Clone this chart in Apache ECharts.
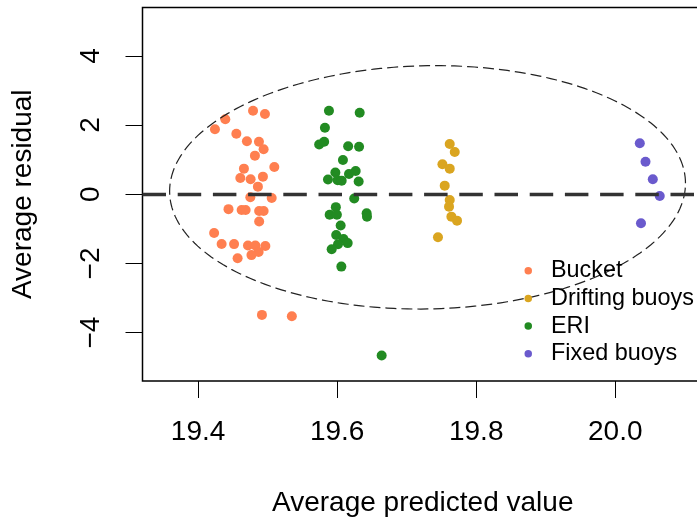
<!DOCTYPE html>
<html>
<head>
<meta charset="utf-8">
<script src="https://cdn.jsdelivr.net/npm/echarts@6/dist/echarts.min.js"></script>
<style>html,body{margin:0;padding:0;background:#fff;}#c{width:697px;height:517px;}</style>
</head>
<body>
<div id="c"></div>
<script>
// ---- data ----
const groupNames = ['Bucket', 'Drifting buoys', 'ERI', 'Fixed buoys'];
const groupColors = ['#FF7F50', '#DAA520', '#228B22', '#6A5ACD'];

const bucketX = [19.479, 19.4961, 19.4391, 19.4242, 19.455, 19.4702, 19.4875, 19.4942, 19.4817, 19.5096, 19.4659, 19.4607, 19.4755, 19.4932, 19.486, 19.4751, 19.5058, 19.4437, 19.4626, 19.4683, 19.4878, 19.4942, 19.4878, 19.423, 19.4338, 19.4517, 19.4717, 19.4823, 19.4967, 19.487, 19.4767, 19.4568, 19.4918, 19.5348];
const bucketY = [2.416, 2.321, 2.168, 1.879, 1.751, 1.532, 1.520, 1.301, 1.116, 0.789, 0.740, 0.471, 0.434, 0.509, 0.220, -0.087, -0.107, -0.431, -0.454, -0.454, -0.483, -0.483, -0.786, -1.118, -1.436, -1.442, -1.480, -1.480, -1.494, -1.668, -1.760, -1.850, -3.488, -3.526];

const driftX = [19.7619, 19.7691, 19.7514, 19.7619, 19.7547, 19.7619, 19.7609, 19.7643, 19.7724, 19.745];
const driftY = [1.454, 1.223, 0.867, 0.740, 0.249, -0.165, -0.358, -0.647, -0.763, -1.243];

const eriX = [19.5882, 19.6324, 19.5824, 19.5741, 19.5813, 19.6158, 19.6315, 19.6083, 19.5974, 19.5868, 19.6007, 19.6065, 19.617, 19.6266, 19.6309, 19.6245, 19.5981, 19.5892, 19.5996, 19.6424, 19.6429, 19.605, 19.5986, 19.6091, 19.6151, 19.6012, 19.5921, 19.606, 19.664];
const eriY = [2.416, 2.358, 1.925, 1.439, 1.517, 1.387, 1.376, 0.988, 0.630, 0.425, 0.408, 0.393, 0.587, 0.673, 0.370, -0.121, -0.373, -0.592, -0.592, -0.549, -0.647, -0.905, -1.179, -1.292, -1.413, -1.445, -1.590, -2.092, -4.665];

const fixedX = [20.0353, 20.0435, 20.054, 20.064, 20.037];
const fixedY = [1.474, 0.942, 0.434, -0.049, -0.838];

const xTicks = [19.4, 19.6, 19.8, 20.0];
const yTicks = [-4, -2, 0, 2, 4];
const xRange = [19.32, 20.1262];
const yRange = [-5.4, 5.4];

// ellipse (data units): centre, semi-axes, shear of major axis
const ellipseCenter = [19.730, 0.20];
const ellipseRadii = [0.371, 3.517];
const ellipseShear = 0.31;
const refLineY = 0;

// ---- chart ----
const FONT = "'Liberation Sans', Arial, Helvetica, sans-serif";
const zip = (xs, ys) => xs.map((x, i) => [x, ys[i]]);
const groups = [zip(bucketX, bucketY), zip(driftX, driftY), zip(eriX, eriY), zip(fixedX, fixedY)];

const chart = echarts.init(document.getElementById('c'), null, {renderer: 'canvas'});

const series = groups.map((d, i) => ({
  name: groupNames[i],
  type: 'scatter',
  data: d,
  symbol: 'circle',
  symbolSize: 10,
  itemStyle: {color: groupColors[i], opacity: 1},
  z: 2,
  silent: true
}));

series.push({
  name: 'ellipse',
  type: 'custom',
  data: [ellipseCenter],
  silent: true,
  z: 3,
  renderItem: function (params, api) {
    const cx = api.value(0), cy = api.value(1);
    const pts = [];
    const N = 240;
    for (let i = 0; i <= N; i++) {
      const t = 2 * Math.PI * i / N;
      const dx = ellipseRadii[0] * Math.cos(t);
      const dy = ellipseRadii[1] * Math.sin(t) + ellipseShear * dx;
      pts.push(api.coord([cx + dx, cy + dy]));
    }
    return {
      type: 'polyline',
      shape: {points: pts},
      style: {stroke: '#222', lineWidth: 1.2, lineDash: [11, 5], fill: null}
    };
  }
});

series.push({
  name: 'ref',
  type: 'scatter',
  data: [],
  silent: true,
  z: 4,
  markLine: {
    silent: true,
    symbol: ['none', 'none'],
    label: {show: false},
    animation: false,
    lineStyle: {color: '#333', width: 3.3, type: [23.5, 11.7], cap: 'butt'},
    emphasis: {disabled: true},
    data: [{yAxis: refLineY}]
  }
});

chart.setOption({
  animation: false,
  backgroundColor: '#fff',
  textStyle: {fontFamily: FONT},
  grid: {
    left: 142.5, top: 7.5, bottom: 136, right: -6,
    containLabel: false,
    outerBoundsMode: 'none',
    show: true, borderColor: '#000', borderWidth: 1.5, backgroundColor: 'transparent'
  },
  legend: {
    data: groupNames,
    orient: 'vertical',
    left: 524.5,
    top: 259,
    padding: 0,
    itemWidth: 7.5,
    itemHeight: 7.5,
    itemGap: 4.3,
    icon: 'circle',
    selectedMode: false,
    textStyle: {fontFamily: FONT, fontSize: 23.4, color: '#000', lineHeight: 23.4, padding: [0, 0, 0, 14]}
  },
  xAxis: {
    type: 'value',
    min: xRange[0], max: xRange[1],
    name: 'Average predicted value',
    nameLocation: 'middle',
    nameGap: 108,
    nameTextStyle: {fontFamily: FONT, fontSize: 28, color: '#000'},
    axisLine: {show: false, onZero: false},
    axisTick: {show: true, length: 17, customValues: xTicks, lineStyle: {color: '#000', width: 1}},
    axisLabel: {customValues: xTicks, margin: 37, fontFamily: FONT, fontSize: 28, color: '#000',
      formatter: v => v.toFixed(1)},
    splitLine: {show: false}
  },
  yAxis: {
    type: 'value',
    min: yRange[0], max: yRange[1],
    name: 'Average residual',
    nameLocation: 'middle',
    nameGap: 105,
    nameTextStyle: {fontFamily: FONT, fontSize: 28, color: '#000'},
    axisLine: {show: false, onZero: false},
    axisTick: {show: true, length: 17, customValues: yTicks, lineStyle: {color: '#000', width: 1}},
    axisLabel: {customValues: yTicks, margin: 37, rotate: 90, fontFamily: FONT, fontSize: 28, color: '#000',
      formatter: v => String(v).replace('-', '\u2212')},
    splitLine: {show: false}
  },
  series: series
});
</script>
</body>
</html>
